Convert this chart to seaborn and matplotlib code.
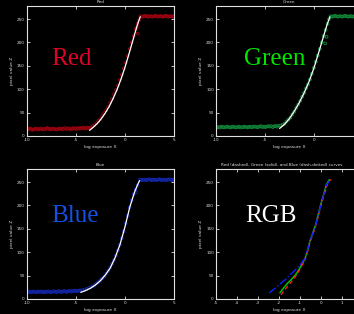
import matplotlib
matplotlib.use("Agg")
import matplotlib.pyplot as plt
import seaborn as sns
import pandas as pd

# sample points (log exposure, pixel value)
red_pts_x = [-9.9, -9.75, -9.6, -9.45, -9.3, -9.15, -9.0, -8.85, -8.7, -8.55, -8.4, -8.25, -8.1, -7.95,
             -7.8, -7.65, -7.5, -7.35, -7.2, -7.05, -6.9, -6.75, -6.6, -6.45, -6.3, -6.15, -6.0, -5.85,
             -5.7, -5.55, -5.4, -5.25, -5.1, -4.95, -4.8, -4.65, -4.5, -4.35, -4.2, -4.05, -3.9, -3.75, -3.6,
             -3.45, -3.3, -3.1, -2.9, -2.7, -2.5, -2.3, -2.1, -1.9, -1.7, -1.5, -1.3, -1.1, -0.9, -0.7,
             -0.5, -0.3, -0.1, 0.1, 0.3, 0.5, 0.7, 0.9, 1.1, 1.3, 1.45, 1.33, 1.22,
             1.6, 1.75, 1.9, 2.05, 2.2, 2.35, 2.5, 2.65, 2.8, 2.95, 3.1, 3.25, 3.4, 3.55, 3.7, 3.85,
             4.0, 4.15, 4.3, 4.45, 4.6, 4.75, 4.9, 5.0]
red_pts_y = [14, 16, 15, 13, 14, 16, 15, 14, 15, 16, 14, 15, 15, 17,
             16, 14, 15, 16, 15, 14, 14, 16, 16, 15, 15, 17, 15, 16,
             16, 14, 15, 17, 16, 15, 17, 16, 16, 18, 17, 16, 18, 17, 17,
             18, 21, 23, 27, 32, 36, 43, 49, 55, 62, 71, 79, 89, 98, 108,
             120, 131, 144, 157, 171, 186, 200, 214, 229, 240, 248, 219, 232,
             256, 255, 256, 257, 256, 255, 256, 256, 255, 256, 257, 256, 255, 256, 256, 255,
             256, 257, 256, 255, 256, 256, 255, 256]
red_fit_x = [-3.6, -3.2, -2.8, -2.4, -2.0, -1.6, -1.2, -0.8, -0.4, 0.0, 0.4, 0.8, 1.2, 1.4, 1.58]
red_fit_y = [12, 19, 27, 37, 49, 63, 80, 99, 121, 146, 174, 203, 232, 245, 255]

green_pts_x = [-9.9, -9.75, -9.6, -9.45, -9.3, -9.15, -9.0, -8.85, -8.7, -8.55, -8.4, -8.25, -8.1, -7.95,
               -7.8, -7.65, -7.5, -7.35, -7.2, -7.05, -6.9, -6.75, -6.6, -6.45, -6.3, -6.15, -6.0, -5.85,
               -5.7, -5.55, -5.4, -5.25, -5.1, -4.95, -4.8, -4.65, -4.5, -4.35, -4.2, -4.05, -3.9, -3.75, -3.6,
               -3.4, -3.2, -3.0, -2.8, -2.6, -2.4, -2.2, -2.0, -1.8, -1.6, -1.4, -1.2, -1.0, -0.8, -0.6,
               -0.4, -0.2, 0.0, 0.2, 0.4, 0.6, 0.8, 1.0, 1.2, 1.4, 1.55, 1.15, 1.3,
               1.7, 1.85, 2.0, 2.15, 2.3, 2.45, 2.6, 2.75, 2.9, 3.05, 3.2, 3.35, 3.5, 3.65, 3.8, 3.95,
               4.1, 4.25, 4.4, 4.55, 4.7, 4.85, 5.0]
green_pts_y = [18, 19, 18, 20, 19, 18, 19, 20, 19, 18, 19, 20, 19, 18,
               19, 20, 18, 19, 19, 20, 19, 18, 20, 19, 19, 20, 20, 19,
               19, 20, 21, 19, 20, 19, 20, 21, 20, 21, 19, 21, 21, 20, 22,
               22, 24, 26, 31, 35, 39, 46, 52, 60, 67, 75, 84, 92, 102, 110,
               121, 133, 146, 159, 172, 186, 200, 214, 227, 240, 250, 198, 212,
               256, 255, 256, 257, 256, 255, 256, 256, 255, 256, 257, 256, 255, 256, 256, 255,
               256, 257, 256, 255, 256, 256, 255]
green_fit_x = [-3.5, -3.0, -2.5, -2.0, -1.5, -1.0, -0.5, 0.0, 0.5, 1.0, 1.3, 1.5, 1.64]
green_fit_y = [16, 25, 37, 53, 71, 92, 116, 145, 179, 214, 235, 247, 255]

blue_pts_x = [-9.9, -9.75, -9.6, -9.45, -9.3, -9.15, -9.0, -8.85, -8.7, -8.55, -8.4, -8.25, -8.1, -7.95,
              -7.8, -7.65, -7.5, -7.35, -7.2, -7.05, -6.9, -6.75, -6.6, -6.45, -6.3, -6.15, -6.0, -5.85,
              -5.7, -5.55, -5.4, -5.25, -5.1, -4.95, -4.8, -4.65, -4.5,
              -4.3, -4.1, -3.9, -3.7, -3.5, -3.3, -3.1, -2.9, -2.7, -2.5, -2.3, -2.1, -1.9, -1.7, -1.5,
              -1.3, -1.1, -0.9, -0.7, -0.5, -0.3, -0.1, 0.1, 0.3, 0.5, 0.7, 0.9, 1.1, 1.3, 1.15,
              1.55, 1.7, 1.85, 2.0, 2.15, 2.3, 2.45, 2.6, 2.75, 2.9, 3.05, 3.2, 3.35, 3.5, 3.65, 3.8,
              3.95, 4.1, 4.25, 4.4, 4.55, 4.7, 4.85, 5.0]
blue_pts_y = [15, 16, 14, 15, 16, 15, 14, 16, 15, 16, 15, 14, 16, 15,
              16, 15, 14, 16, 16, 15, 15, 17, 16, 15, 16, 17, 15, 16,
              17, 16, 17, 16, 18, 17, 17, 18, 18,
              19, 20, 21, 23, 25, 27, 29, 33, 36, 40, 44, 48, 54, 60, 67,
              75, 83, 93, 104, 116, 130, 145, 162, 178, 196, 211, 224, 234, 243, 228,
              255, 254, 255, 255, 254, 255, 256, 255, 254, 255, 255, 254, 255, 256, 255, 254,
              255, 255, 254, 255, 256, 255, 254, 255]
blue_fit_x = [-4.5, -4.0, -3.5, -3.0, -2.5, -2.0, -1.5, -1.0, -0.5, 0.0, 0.5, 1.0, 1.3, 1.5]
blue_fit_y = [14, 18, 23, 30, 39, 51, 66, 88, 116, 153, 196, 229, 244, 253]

# overlay curves
rgb_red_x = [-1.9, -1.75, -1.55, -1.35, -1.15, -0.93, -0.76, -0.62, -0.5, -0.22, 0.02, 0.3, 0.47]
rgb_red_y = [9, 18, 29, 40, 52, 69, 84, 104, 124, 160, 203, 244, 256]
rgb_green_x = [-1.95, -1.8, -1.6, -1.4, -1.18, -0.95, -0.77, -0.63, -0.52, -0.24, 0.0, 0.27, 0.4]
rgb_green_y = [13, 22, 33, 42, 53, 70, 85, 104, 124, 160, 203, 245, 255]
rgb_blue_x = [-2.46, -2.2, -1.95, -1.7, -1.48, -1.2, -0.95, -0.78, -0.65, -0.52, -0.24, 0.0, 0.27, 0.42]
rgb_blue_y = [13, 22, 32, 41, 51, 63, 75, 86, 103, 124, 159, 202, 244, 253]

yticks = [0, 50, 100, 150, 200, 250]

sns.set_theme(style="dark", rc={
    "figure.facecolor": "black", "axes.facecolor": "black",
    "axes.edgecolor": "#e0e0e0", "axes.labelcolor": "#e0e0e0",
    "text.color": "#e0e0e0", "xtick.color": "#e0e0e0", "ytick.color": "#e0e0e0",
    "axes.linewidth": 0.8, "xtick.direction": "in", "ytick.direction": "in",
    "xtick.major.size": 2, "ytick.major.size": 2,
    "xtick.major.width": 0.6, "ytick.major.width": 0.6,
    "xtick.top": True, "ytick.right": True,
    "xtick.bottom": True, "ytick.left": True,
    "font.size": 3, "axes.grid": False,
})
plt.rcParams["font.family"] = ["DejaVu Sans"]

fig = plt.figure(figsize=(3.54, 3.14), dpi=100)


def style_axes(ax, title, xlim, xticks, xlabels):
    ax.set_xlim(*xlim)
    ax.set_ylim(0, 278)
    ax.set_xticks(xticks)
    ax.set_xticklabels(xlabels)
    ax.set_yticks(yticks)
    ax.tick_params(labelsize=3, pad=1.5)
    ax.set_title(title, fontsize=3, pad=2, color="#e0e0e0")
    ax.set_xlabel("log exposure X", fontsize=3.2, labelpad=2)
    ax.set_ylabel("pixel value Z", fontsize=3.2, labelpad=2)
    for s in ax.spines.values():
        s.set_visible(True)


def channel(pos, px, py, fx, fy, col, name, lcol, tx, ty, xlabels):
    ax = fig.add_axes(pos)
    df = pd.DataFrame({"x": px, "y": py})
    sns.scatterplot(data=df, x="x", y="y", ax=ax, marker="o", s=4,
                    facecolor="none", edgecolor=col, linewidth=0.6)
    fit = pd.DataFrame({"x": fx, "y": fy})
    sns.lineplot(data=fit, x="x", y="y", ax=ax, color="white", lw=0.9, sort=False)
    style_axes(ax, name, (-10, 5), [-10, -5, 0, 5], xlabels)
    ax.text(tx, ty, name, transform=ax.transAxes, color=lcol, fontsize=18,
            family="Liberation Serif", ha="left", va="baseline")
    return ax


# right column runs past the image edge, so its last tick label is not shown
channel([0.076, 0.567, 0.415, 0.414], red_pts_x, red_pts_y, red_fit_x, red_fit_y,
        "#a80010", "Red", "#e0002a", 0.163, 0.546, ["-10", "-5", "0", "5"])
channel([0.610, 0.567, 0.415, 0.414], green_pts_x, green_pts_y, green_fit_x, green_fit_y,
        "#128a3a", "Green", "#00e600", 0.19, 0.546, ["-10", "-5", "0", ""])
channel([0.076, 0.048, 0.415, 0.414], blue_pts_x, blue_pts_y, blue_fit_x, blue_fit_y,
        "#1428b4", "Blue", "#1450e6", 0.163, 0.592, ["-10", "-5", "0", "5"])

ax = fig.add_axes([0.610, 0.048, 0.415, 0.414])
sns.lineplot(x=rgb_green_x, y=rgb_green_y, ax=ax, color="#00d000", lw=1.0, sort=False)
sns.lineplot(x=rgb_red_x, y=rgb_red_y, ax=ax, color="#ff2020", lw=1.0, sort=False, linestyle=(0, (3, 2)))
sns.lineplot(x=rgb_blue_x, y=rgb_blue_y, ax=ax, color="#1020ff", lw=1.0, sort=False, linestyle=(0, (6, 1.5, 1, 1.5)))
style_axes(ax, "Red (dashed), Green (solid), and Blue (dash-dotted) curves", (-5, 2),
           [-5, -4, -3, -2, -1, 0, 1, 2], ["-5", "-4", "-3", "-2", "-1", "0", "1", ""])
ax.title.set_position((0.45, 1.0))
ax.text(0.197, 0.59, "RGB", transform=ax.transAxes, color="white", fontsize=18,
        family="Liberation Serif", ha="left", va="baseline")

fig.savefig("out.png", dpi=100, facecolor="black")
